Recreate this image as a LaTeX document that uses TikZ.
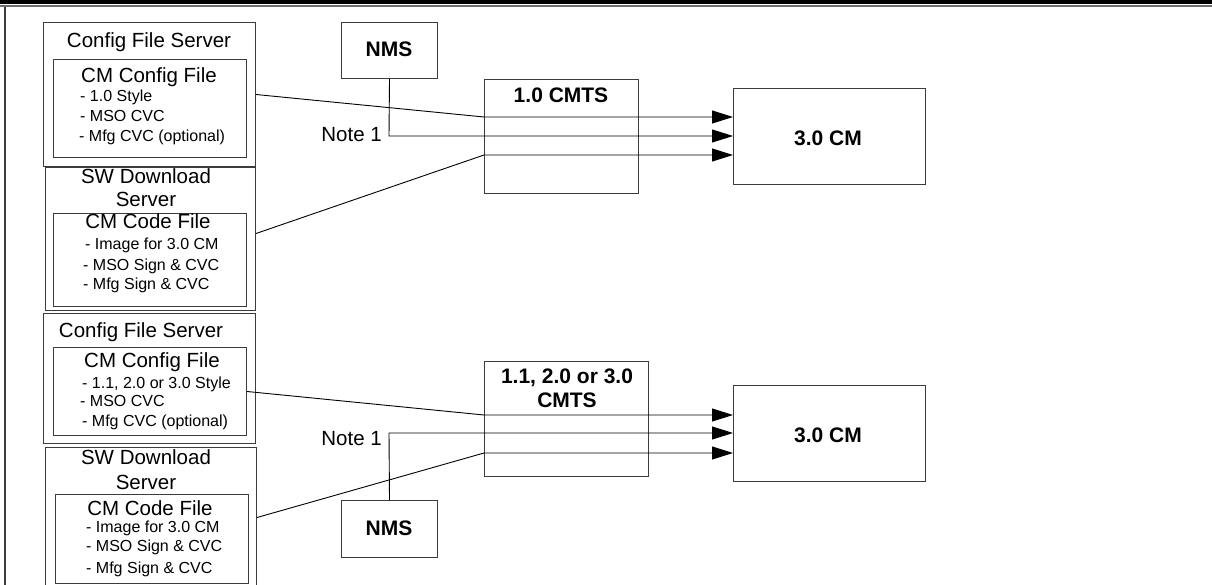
\documentclass[tikz,border=0pt]{standalone}
\usepackage{fontspec}
\setmainfont{Liberation Sans}
\usetikzlibrary{arrows.meta}
\definecolor{boxc}{RGB}{60,60,60}
\definecolor{framec}{RGB}{110,110,110}
\begin{document}
\begin{tikzpicture}[x=1pt,y=-1pt,
  box/.style={draw=boxc, line width=1pt, inner sep=0pt, anchor=north west},
  big/.style={font=\fontsize{20.5}{25}\selectfont, inner sep=0pt, anchor=base},
  bigb/.style={font=\fontsize{21}{25}\selectfont\bfseries, inner sep=0pt, anchor=base},
  small/.style={font=\fontsize{16}{19}\selectfont, inner sep=0pt, anchor=base west},
  conn/.style={draw=black, line width=0.9pt},
  arr/.style={conn, -{Triangle[length=21pt,width=13pt]}}]
\useasboundingbox (0,0) rectangle (1212,585);
\clip (0,0) rectangle (1212,585);
\fill[white] (0,0) rectangle (1212,585);
% frame
\fill[black] (0,0) rectangle (1212,4);
\draw[framec, line width=1.5pt] (0,5.8) -- (1212,5.8);
\draw[boxc, line width=1.2pt] (5,7) -- (5,585);

% ---------- upper diagram ----------
\node[box, minimum width=212pt, minimum height=144pt] (cfgA) at (43,22) {};
\node[box, minimum width=193pt, minimum height=98pt] (cfgAin) at (53,59) {};
\node[big] (cfgAt) at (149,47.5) {Config File Server};
\node[big] (cfgAh) at (149,82.5) {CM Config File};
\node[small] (cfgA1) at (80,102) {- 1.0 Style};
\node[small] (cfgA2) at (80,122) {- MSO CVC};
\node[small] (cfgA3) at (79,142) {- Mfg CVC (optional)};

\node[box, minimum width=210pt, minimum height=143pt] (swA) at (45,167) {};
\node[box, minimum width=193pt, minimum height=93pt] (swAin) at (53,213) {};
\node[big] (swAt1) at (146,183.5) {SW Download};
\node[big] (swAt2) at (146,206.5) {Server};
\node[big] (swAh) at (148,229) {CM Code File};
\node[small] (swA1) at (85,250) {- Image for 3.0 CM};
\node[small] (swA2) at (83,270) {- MSO Sign \& CVC};
\node[small] (swA3) at (83,290) {- Mfg Sign \& CVC};

\node[box, minimum width=96pt, minimum height=56pt] (nmsA) at (341,22) {};
\node[bigb] (nmsAt) at (389,56.5) {NMS};
\node[box, minimum width=154pt, minimum height=114pt] (cmtsA) at (484,79) {};
\node[bigb] (cmtsAt) at (561,102.5) {1.0 CMTS};
\node[box, minimum width=192pt, minimum height=96pt] (cmA) at (733,88) {};
\node[bigb] (cmAt) at (828,145.5) {3.0 CM};
\node[big, anchor=base east] (noteA) at (382,141.5) {Note 1};

\coordinate (jA1) at (484,117);
\coordinate (jA2) at (389,136);
\coordinate (jA3) at (484,155);
\draw[arr] (cfgA.east) -- (jA1) -- (jA1 -| cmA.west);
\draw[arr] (nmsA.south) -- (jA2) -- (jA2 -| cmA.west);
\draw[arr] ([yshift=5.5pt]swA.east) -- (jA3) -- (jA3 -| cmA.west);

% ---------- lower diagram ----------
\node[box, minimum width=212pt, minimum height=130pt] (cfgB) at (43,313) {};
\node[box, minimum width=193pt, minimum height=88pt] (cfgBin) at (53,347) {};
\node[big] (cfgBt) at (141,337.5) {Config File Server};
\node[big] (cfgBh) at (152,367.5) {CM Config File};
\node[small] (cfgB1) at (82,388) {- 1.1, 2.0 or 3.0 Style};
\node[small] (cfgB2) at (80,406) {- MSO CVC};
\node[small] (cfgB3) at (82,426) {- Mfg CVC (optional)};

\node[box, minimum width=211pt, minimum height=153pt] (swB) at (45,447) {};
\node[box, minimum width=193pt, minimum height=89pt] (swBin) at (55,494) {};
\node[big] (swBt1) at (146,464.5) {SW Download};
\node[big] (swBt2) at (146,489.5) {Server};
\node[big] (swBh) at (150,515.5) {CM Code File};
\node[small] (swB1) at (86,532) {- Image for 3.0 CM};
\node[small] (swB2) at (86,551) {- MSO Sign \& CVC};
\node[small] (swB3) at (86,573) {- Mfg Sign \& CVC};

\node[box, minimum width=96pt, minimum height=57pt] (nmsB) at (341,500) {};
\node[bigb] (nmsBt) at (389,535.5) {NMS};
\node[box, minimum width=164pt, minimum height=115pt] (cmtsB) at (484,361) {};
\node[bigb] (cmtsBt1) at (567,383.5) {1.1, 2.0 or 3.0};
\node[bigb] (cmtsBt2) at (567,407.5) {CMTS};
\node[box, minimum width=192pt, minimum height=96pt] (cmB) at (733,385) {};
\node[bigb] (cmBt) at (828,442.5) {3.0 CM};
\node[big, anchor=base east] (noteB) at (382,445.5) {Note 1};

\coordinate (jB1) at (484,415);
\coordinate (jB2) at (389,433);
\coordinate (jB3) at (484,453);
\draw[arr] (cfgBin.east) -- (jB1) -- (jB1 -| cmB.west);
\draw[arr] (nmsB.north) -- (jB2) -- (jB2 -| cmB.west);
\draw[arr] ([yshift=6.5pt]swB.east) -- (jB3) -- (jB3 -| cmB.west);
\end{tikzpicture}
\end{document}
